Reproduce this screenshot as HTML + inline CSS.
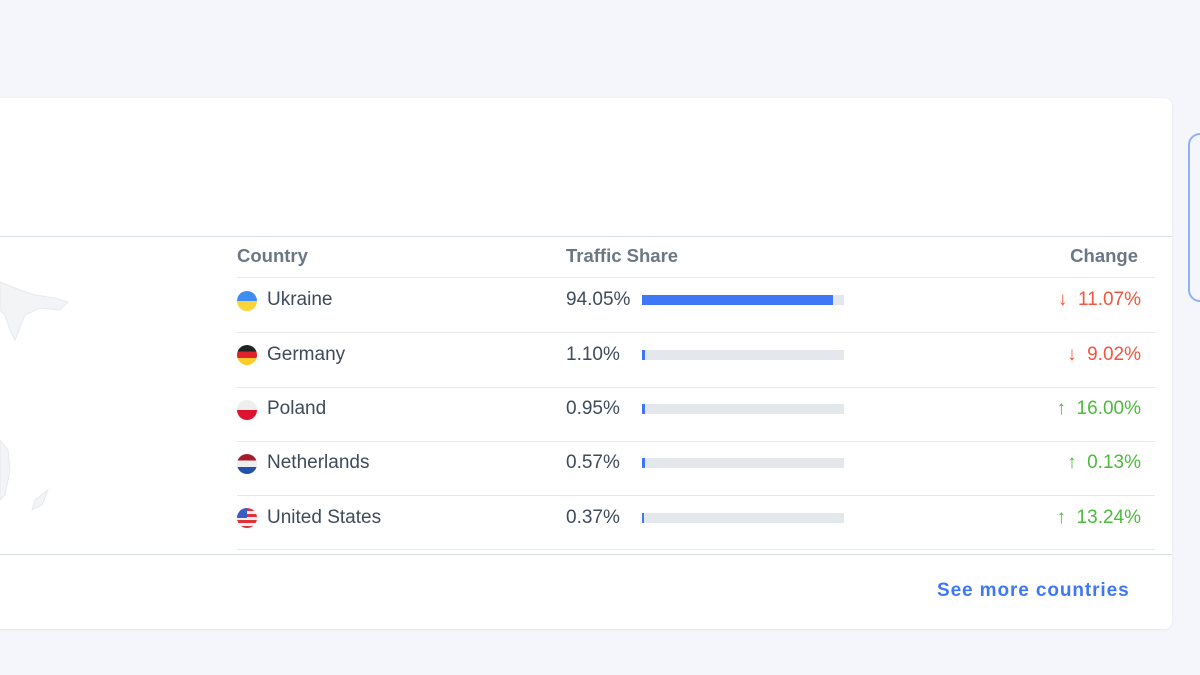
<!DOCTYPE html>
<html><head><style>
body{margin:0;width:1200px;height:675px;background:#f4f6fb;position:relative;overflow:hidden;font-family:"Liberation Sans",sans-serif;}
.card{position:absolute;left:-10px;top:98px;width:1182px;height:531px;background:#fff;border-radius:8px;box-shadow:0 1px 3px rgba(0,0,0,0.06);}
.side{position:absolute;left:1188px;top:133px;width:30px;height:165px;border:2px solid #8fb0f5;border-radius:12px;background:#f4f6fb;}
.hl{position:absolute;height:1px;background:#d9dde4;}
.rl{position:absolute;left:237px;width:918px;height:1px;background:#e6e8ec;}
.t{position:absolute;font-size:19px;color:#3f4a5a;line-height:20px;}
.h{position:absolute;font-size:18.5px;font-weight:bold;color:#6b7785;line-height:20px;}
.flag{position:absolute;left:237px;width:20px;height:20px;border-radius:50%;overflow:hidden;}
.bar{position:absolute;left:642px;width:202px;height:10px;background:#e4e7ec;}
.bar i{position:absolute;left:0;top:0;height:10px;background:#3f78f6;}
.c{position:absolute;right:59px;font-size:19px;line-height:20px;}
.dn{color:#f2543d}.up{color:#4cbb3c}
.more{position:absolute;left:937px;top:580px;font-size:19px;font-weight:bold;color:#3f78f6;letter-spacing:0.9px;}
</style></head><body>
<div class="card"></div>
<div class="side"></div>
<div class="hl" style="left:0;top:236px;width:1172px"></div>
<div class="hl" style="left:0;top:554px;width:1172px"></div>
<svg style="position:absolute;left:0;top:270px" width="80" height="250"><path d="M0 12 L20 20 L35 25 L55 28 L68 32 L60 40 L40 38 L25 45 L15 70 L10 60 L5 45 L0 40Z" fill="#f3f4f5" stroke="#e8e9ec"/><path d="M0 170 L8 180 L10 200 L5 225 L0 230Z" fill="#f3f4f5" stroke="#e8e9ec"/><path d="M35 230 L48 220 L42 235 L32 240Z" fill="#f3f4f5" stroke="#e8e9ec"/></svg>
<div class="h" style="left:237px;top:246px">Country</div>
<div class="h" style="left:566px;top:246px">Traffic Share</div>
<div class="h" style="right:62px;top:246px">Change</div>
<div class="rl" style="top:277px"></div>
<div class="rl" style="top:332px"></div>
<div class="rl" style="top:387px"></div>
<div class="rl" style="top:441px"></div>
<div class="rl" style="top:495px"></div>
<div class="rl" style="top:549px"></div>

<div class="flag" style="top:291px;background:linear-gradient(#3d8ef0 50%,#fbd43a 50%)"></div>
<div class="t" style="left:267px;top:290px">Ukraine</div>
<div class="t" style="left:566px;top:290px">94.05%</div>
<div class="bar" style="top:295px"><i style="width:191px"></i></div>
<div class="c dn" style="top:290px">↓&nbsp; 11.07%</div>

<div class="flag" style="top:345px;background:linear-gradient(#222 33%,#e0222b 33%,#e0222b 66%,#fbcb2a 66%)"></div>
<div class="t" style="left:267px;top:345px">Germany</div>
<div class="t" style="left:566px;top:345px">1.10%</div>
<div class="bar" style="top:350px"><i style="width:3px"></i></div>
<div class="c dn" style="top:345px">↓&nbsp; 9.02%</div>

<div class="flag" style="top:400px;background:linear-gradient(#eeeeee 50%,#dc1430 50%)"></div>
<div class="t" style="left:267px;top:399px">Poland</div>
<div class="t" style="left:566px;top:399px">0.95%</div>
<div class="bar" style="top:404px"><i style="width:3px"></i></div>
<div class="c up" style="top:399px">↑&nbsp; 16.00%</div>

<div class="flag" style="top:454px;background:linear-gradient(#a61b2c 33%,#eeeeee 33%,#eeeeee 66%,#2452a8 66%)"></div>
<div class="t" style="left:267px;top:453px">Netherlands</div>
<div class="t" style="left:566px;top:453px">0.57%</div>
<div class="bar" style="top:458px"><i style="width:3px"></i></div>
<div class="c up" style="top:453px">↑&nbsp; 0.13%</div>

<div class="flag" style="top:508px;background:repeating-linear-gradient(#e0303a 0 3px,#eeeeee 3px 6px)"><span style="position:absolute;left:0;top:0;width:10px;height:10px;background:#3a5cc4"></span></div>
<div class="t" style="left:267px;top:508px">United States</div>
<div class="t" style="left:566px;top:508px">0.37%</div>
<div class="bar" style="top:513px"><i style="width:2px"></i></div>
<div class="c up" style="top:508px">↑&nbsp; 13.24%</div>

<div class="more">See more countries</div>
</body></html>
